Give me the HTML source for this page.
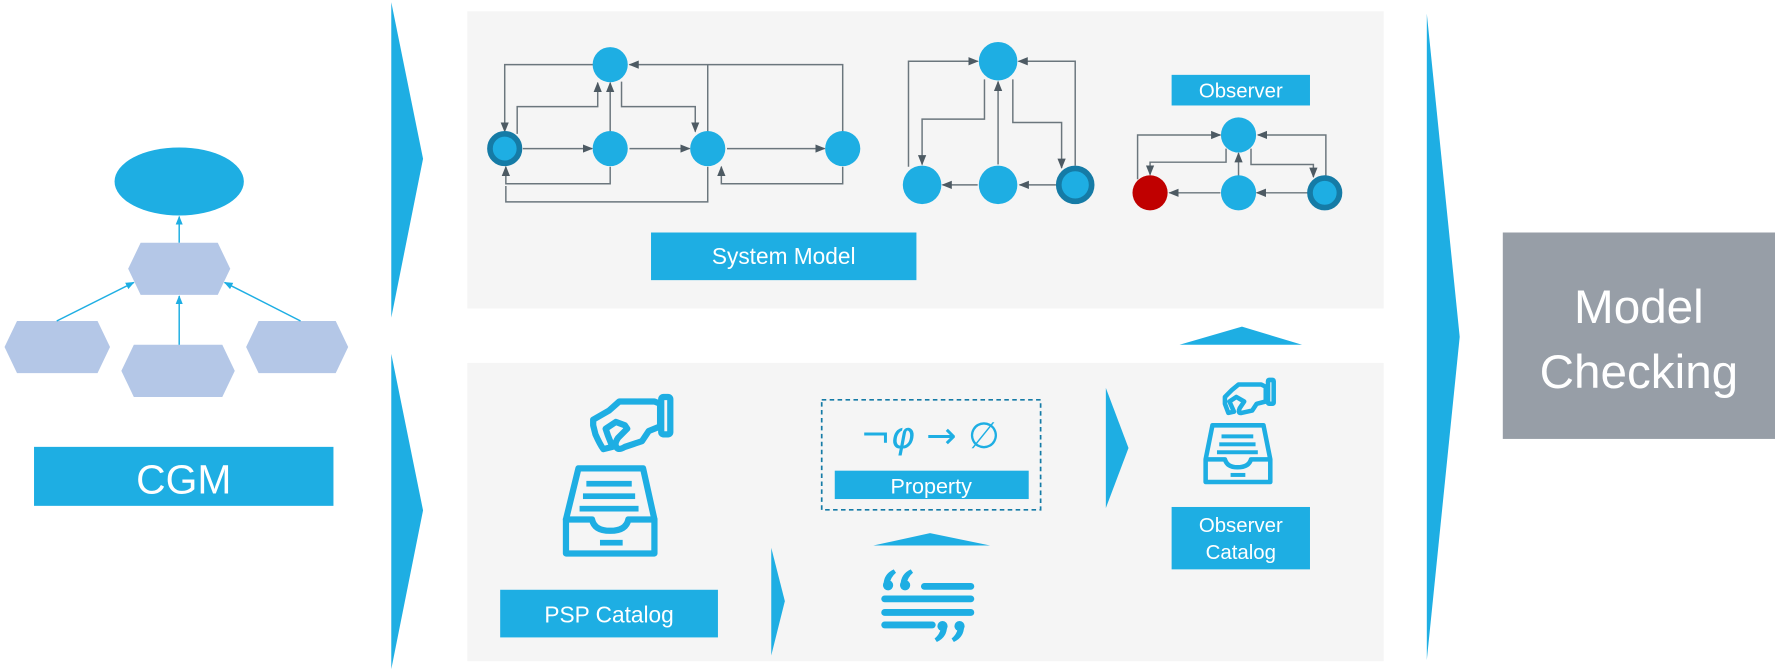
<!DOCTYPE html>
<html><head><meta charset="utf-8"><style>
html,body{margin:0;padding:0;background:#fff;width:1775px;height:672px;overflow:hidden}
svg{display:block}
text{font-family:"Liberation Sans",sans-serif;fill:#fff}
</style></head><body>
<svg width="1775" height="672" viewBox="0 0 1565 592.5" preserveAspectRatio="none" xmlns="http://www.w3.org/2000/svg">
<defs>
<marker id="a" viewBox="0 0 10 10" refX="9" refY="5" markerWidth="7" markerHeight="7" orient="auto"><path d="M0,1 L10,5 L0,9z" fill="#4d5a63"/></marker>
<marker id="b" viewBox="0 0 10 10" refX="9" refY="5" markerWidth="6" markerHeight="6" orient="auto"><path d="M0,1 L10,5 L0,9z" fill="#1eaee3"/></marker>
</defs>
<rect x="412" y="10" width="808" height="262" fill="#f5f5f5"/>
<rect x="412" y="320" width="808" height="263" fill="#f5f5f5"/>
<g fill="#1eaee3">
<polygon points="345,2 373,140 345,280"/>
<polygon points="345,312 373,450 345,590"/>
<polygon points="1258,12 1287,297 1258,582"/>
<polygon points="975,342 995,395 975,448"/>
<polygon points="680,483 692,530 680,578"/>
<polygon points="1040,304 1095,288 1148,304"/>
<polygon points="770,481 820,470 873,481"/>
</g>
<ellipse cx="158" cy="160" rx="57" ry="30" fill="#1eaee3"/>
<g fill="#b4c7e7">
<polygon points="113,237 124,214 192,214 203,237 192,260 124,260"/>
<polygon points="4,306 15,283 86,283 97,306 86,329 15,329"/>
<polygon points="107,327 118,304 196,304 207,327 196,350 118,350"/>
<polygon points="217,306 228,283 296,283 307,306 296,329 228,329"/>
</g>
<g stroke="#1eaee3" stroke-width="1.3" fill="none" marker-end="url(#b)">
<line x1="158" y1="214" x2="158" y2="191"/>
<line x1="158" y1="304" x2="158" y2="261"/>
<line x1="50" y1="283" x2="118" y2="249"/>
<line x1="265" y1="283" x2="198" y2="249"/>
</g>
<rect x="30" y="394" width="264" height="52" fill="#1eaee3"/>
<text x="162" y="435" font-size="36" text-anchor="middle">CGM</text>
<rect x="1325" y="205" width="240" height="182" fill="#979ea7"/>
<text x="1445" y="285" font-size="42" text-anchor="middle">Model</text>
<text x="1445" y="342" font-size="42" text-anchor="middle">Checking</text>
<g stroke="#6b767d" stroke-width="1.3" fill="none" marker-end="url(#a)">
<polyline points="524,57 445,57 445,116"/>
<polyline points="456,118 456,94 527,94 527,73"/>
<line x1="538" y1="116" x2="538" y2="73"/>
<polyline points="548,72 548,94 613,94 613,116"/>
<polyline points="743,116 743,57 555,57"/>
<line x1="624" y1="116" x2="624" y2="57" marker-end="none"/>
<line x1="461" y1="131" x2="522" y2="131"/>
<line x1="555" y1="131" x2="608" y2="131"/>
<line x1="641" y1="131" x2="727" y2="131"/>
<polyline points="538,147 538,162 446,162 446,147"/>
<polyline points="743,147 743,162 636,162 636,147"/>
<polyline points="624,147 624,178 446,178 446,164" marker-end="none"/>
</g>
<g fill="#1eaee3">
<circle cx="538" cy="57" r="15.5"/>
<circle cx="538" cy="131" r="15.5"/>
<circle cx="624" cy="131" r="15.5"/>
<circle cx="743" cy="131" r="15.5"/>
<circle cx="445" cy="131" r="13" stroke="#157ba6" stroke-width="5"/>
</g>
<g stroke="#6b767d" stroke-width="1.3" fill="none" marker-end="url(#a)">
<polyline points="801,147 801,54 862,54"/>
<polyline points="948,146 948,54 898,54"/>
<polyline points="868,70 868,105 813,105 813,145"/>
<polyline points="893,70 893,108 936,108 936,148"/>
<line x1="880" y1="145" x2="880" y2="72"/>
<line x1="931" y1="163" x2="899" y2="163"/>
<line x1="862" y1="163" x2="831" y2="163"/>
</g>
<g fill="#1eaee3">
<circle cx="880" cy="54" r="17"/>
<circle cx="813" cy="163" r="17"/>
<circle cx="880" cy="163" r="17"/>
<circle cx="948" cy="163" r="14.5" stroke="#157ba6" stroke-width="5"/>
</g>
<rect x="1033" y="66" width="122" height="27" fill="#1eaee3"/>
<text x="1094" y="86" font-size="18" text-anchor="middle">Observer</text>
<g stroke="#6b767d" stroke-width="1.3" fill="none" marker-end="url(#a)">
<polyline points="1003,158 1003,119 1076,119"/>
<polyline points="1081,131 1081,143 1014,143 1014,154"/>
<polyline points="1103,131 1103,145 1158,145 1158,156"/>
<polyline points="1169,156 1169,119 1109,119"/>
<line x1="1092" y1="155" x2="1092" y2="135"/>
<line x1="1153" y1="170" x2="1108" y2="170"/>
<line x1="1076" y1="170" x2="1031" y2="170"/>
</g>
<circle cx="1092" cy="119" r="15.5" fill="#1eaee3"/>
<circle cx="1092" cy="170" r="15.5" fill="#1eaee3"/>
<circle cx="1014" cy="170" r="15.5" fill="#c00000"/>
<circle cx="1168" cy="170" r="13" fill="#1eaee3" stroke="#157ba6" stroke-width="5"/>
<rect x="574" y="205" width="234" height="42" fill="#1eaee3"/>
<text x="691" y="233" font-size="20" text-anchor="middle">System Model</text>
<g stroke="#1eaee3" stroke-width="5.5" fill="none" stroke-linejoin="round" stroke-linecap="round">
<path d="M537,362 L546,354 L577,354 L582,356 L582,376 L572,380 L566,389 L551,394 Q546,397 544,395 Q541,392 545,386 L553,378 L551,375 L543,372 L534,378 L536,384 L540,394 L532,396 Q529,392 525,383 L523,375 L523,370 Z"/>
<rect x="583" y="350" width="8" height="33" rx="2"/>
<path d="M499,488 L499,458 L510,413 L567,413 L577,458 L577,488 Z"/>
<path d="M499,458 L522,458 Q524,468 538,468 Q552,468 554,458 L577,458"/>
</g>
<g fill="#1eaee3">
<rect x="517" y="424" width="40" height="5"/>
<rect x="514" y="435" width="46" height="5"/>
<rect x="511" y="446" width="52" height="5"/>
<rect x="529" y="476" width="20" height="5"/>
</g>
<rect x="441" y="520" width="192" height="42" fill="#1eaee3"/>
<text x="537" y="549" font-size="20" text-anchor="middle">PSP Catalog</text>
<rect x="724.5" y="352.5" width="193" height="97" fill="none" stroke="#157ba6" stroke-width="1.5" stroke-dasharray="4,3"/>
<text x="820" y="395" font-size="32" text-anchor="middle" style="fill:#1eaee3;font-family:'DejaVu Sans',sans-serif">¬<tspan font-style="italic">φ</tspan> → ∅</text>
<rect x="736" y="415" width="171" height="25" fill="#1eaee3"/>
<text x="821" y="435" font-size="19" text-anchor="middle">Property</text>
<g stroke="#1eaee3" stroke-width="6" stroke-linecap="round">
<line x1="815" y1="517" x2="856" y2="517"/>
<line x1="780" y1="528" x2="856" y2="528"/>
<line x1="780" y1="540" x2="856" y2="540"/>
<line x1="780" y1="551" x2="822" y2="551"/>
</g>
<g fill="#1eaee3">
<circle cx="783" cy="516" r="4.5"/><path d="M779,516 Q779,506 788,502 L790,505 Q785,509 784,516 Z"/>
<circle cx="798" cy="516" r="4.5"/><path d="M794,516 Q794,506 803,502 L805,505 Q800,509 799,516 Z"/>
<circle cx="831" cy="552" r="4.5"/><path d="M835,552 Q835,562 826,566 L824,563 Q829,559 830,552 Z"/>
<circle cx="846" cy="552" r="4.5"/><path d="M850,552 Q850,562 841,566 L839,563 Q844,559 845,552 Z"/>
</g>
<g stroke="#1eaee3" stroke-width="4" fill="none" stroke-linejoin="round">
<path d="M1086,344 L1092,339 L1112,339 L1116,341 L1116,354 L1108,356 L1104,362 L1095,364 Q1091,365 1093,360 L1097,354 L1090,350 L1084,354 L1088,363 L1083,364 L1080,356 L1080,350 Z"/>
<rect x="1118" y="335" width="5" height="21" rx="1"/>
<path d="M1063,425 L1063,405 L1069,375 L1114,375 L1120,405 L1120,425 Z"/>
<path d="M1063,405 L1080,405 Q1082,412 1091,412 Q1101,412 1103,405 L1120,405"/>
</g>
<g fill="#1eaee3">
<rect x="1077" y="383" width="28" height="3.5"/>
<rect x="1075" y="390" width="32" height="3.5"/>
<rect x="1073" y="397" width="36" height="3.5"/>
<rect x="1085" y="417" width="13" height="3.5"/>
</g>
<rect x="1033" y="447" width="122" height="55" fill="#1eaee3"/>
<text x="1094" y="469" font-size="18" text-anchor="middle">Observer</text>
<text x="1094" y="493" font-size="18" text-anchor="middle">Catalog</text>
</svg>
</body></html>
